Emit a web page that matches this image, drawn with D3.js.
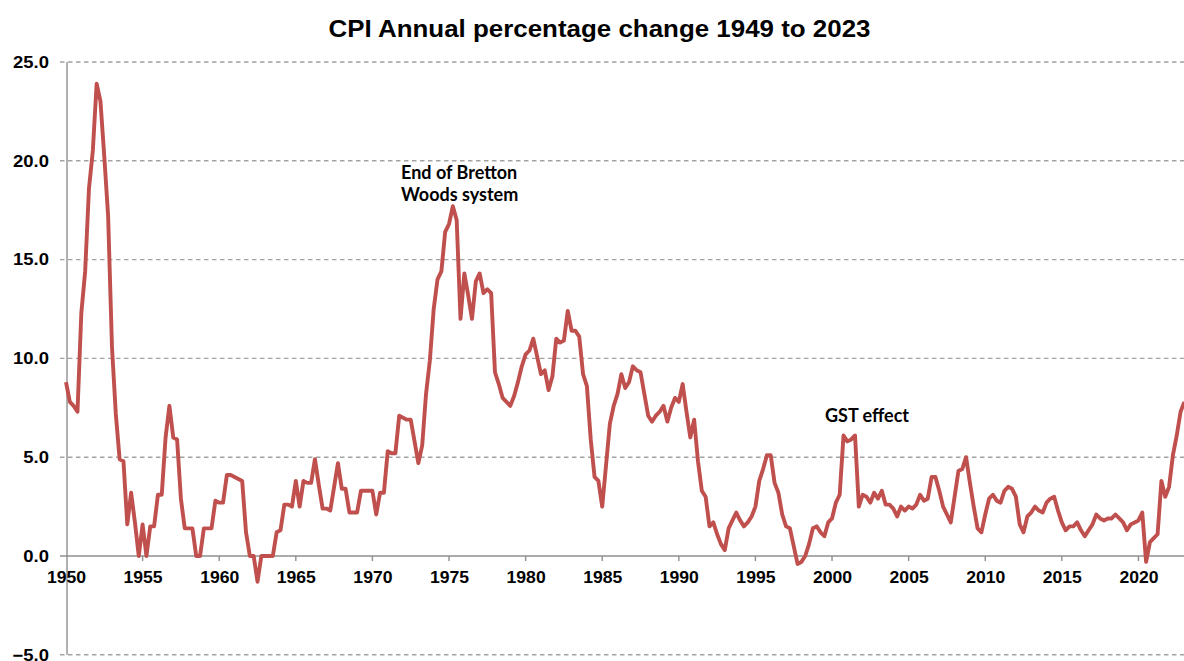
<!DOCTYPE html>
<html>
<head>
<meta charset="utf-8">
<script src="https://cdn.jsdelivr.net/npm/d3@7"></script>
<style>
  html, body { margin: 0; padding: 0; background: #ffffff; }
  svg { display: block; }
</style>
</head>
<body>
<svg id="chart" width="1184" height="661"></svg>
<script>
// ---- Data: year-ended CPI % change, quarterly, starting Dec quarter 1949 ----
const firstYear = 1949;
const firstQuarter = 4;   // Dec quarter
const cpiChange = [
  8.8,
  7.8, 7.6, 7.3, 12.3,     // 1950
  14.4, 18.6, 20.5, 23.9,  // 1951
  23.0, 20.2, 17.2, 10.6,  // 1952
  7.2, 4.9, 4.8, 1.6,      // 1953
  3.2, 1.7, 0.0, 1.6,      // 1954
  0.0, 1.5, 1.5, 3.1,      // 1955
  3.1, 6.0, 7.6, 6.0,      // 1956
  5.9, 2.9, 1.4, 1.4,      // 1957
  1.4, 0.0, 0.0, 1.4,      // 1958
  1.4, 1.4, 2.8, 2.7,      // 1959
  2.7, 4.1, 4.1, 4.0,      // 1960
  3.9, 3.8, 1.2, 0.0,      // 1961
  0.0, -1.3, 0.0, 0.0,     // 1962
  0.0, 0.0, 1.2, 1.3,      // 1963
  2.6, 2.6, 2.5, 3.8,      // 1964
  2.5, 3.8, 3.7, 3.7,      // 1965
  4.9, 3.6, 2.4, 2.4,      // 1966
  2.3, 3.5, 4.7, 3.4,      // 1967
  3.4, 2.2, 2.2, 2.2,      // 1968
  3.3, 3.3, 3.3, 3.3,      // 1969
  2.1, 3.2, 3.2, 5.3,      // 1970
  5.2, 5.2, 7.1, 7.0,      // 1971
  6.9, 6.9, 5.8, 4.7,      // 1972
  5.6, 8.2, 9.9, 12.5,     // 1973
  14.0, 14.4, 16.4, 16.8,  // 1974
  17.7, 17.0, 12.0, 14.3,  // 1975
  13.2, 12.0, 13.9, 14.3,  // 1976
  13.3, 13.5, 13.3, 9.3,   // 1977
  8.7, 8.0, 7.8, 7.6,      // 1978
  8.1, 8.8, 9.6, 10.2,     // 1979
  10.4, 11.0, 10.1, 9.2,   // 1980
  9.4, 8.4, 9.1, 11.0,     // 1981
  10.8, 10.9, 12.4, 11.4,  // 1982
  11.4, 11.1, 9.2, 8.6,    // 1983
  5.9, 4.0, 3.8, 2.5,      // 1984
  4.6, 6.7, 7.6, 8.2,      // 1985
  9.2, 8.5, 8.8, 9.6,      // 1986
  9.4, 9.3, 8.2, 7.1,      // 1987
  6.8, 7.1, 7.3, 7.6,      // 1988
  6.8, 7.5, 8.0, 7.8,      // 1989
  8.7, 7.3, 6.0, 6.9,      // 1990
  4.8, 3.3, 3.0, 1.5,      // 1991
  1.7, 1.1, 0.6, 0.3,      // 1992
  1.4, 1.8, 2.2, 1.8,      // 1993
  1.5, 1.7, 2.0, 2.5,      // 1994
  3.8, 4.4, 5.1, 5.1,      // 1995
  3.7, 3.2, 2.1, 1.5,      // 1996
  1.4, 0.5, -0.4, -0.3,    // 1997
  0.0, 0.6, 1.4, 1.5,      // 1998
  1.2, 1.0, 1.7, 1.9,      // 1999
  2.7, 3.1, 6.1, 5.8,      // 2000
  5.9, 6.1, 2.5, 3.1,      // 2001
  3.0, 2.7, 3.2, 2.9,      // 2002
  3.3, 2.6, 2.6, 2.4,      // 2003
  2.0, 2.5, 2.3, 2.5,      // 2004
  2.4, 2.6, 3.1, 2.8,      // 2005
  2.9, 4.0, 4.0, 3.3,      // 2006
  2.5, 2.1, 1.7, 3.0,      // 2007
  4.3, 4.4, 5.0, 3.7,      // 2008
  2.5, 1.4, 1.2, 2.1,      // 2009
  2.9, 3.1, 2.8, 2.7,      // 2010
  3.3, 3.5, 3.4, 3.0,      // 2011
  1.6, 1.2, 2.0, 2.2,      // 2012
  2.5, 2.3, 2.2, 2.7,      // 2013
  2.9, 3.0, 2.3, 1.7,      // 2014
  1.3, 1.5, 1.5, 1.7,      // 2015
  1.3, 1.0, 1.3, 1.6,      // 2016
  2.1, 1.9, 1.8, 1.9,      // 2017
  1.9, 2.1, 1.9, 1.7,      // 2018
  1.3, 1.6, 1.7, 1.8,      // 2019
  2.2, -0.3, 0.7, 0.9,     // 2020
  1.1, 3.8, 3.0, 3.5,      // 2021
  5.1, 6.1, 7.3, 7.8       // 2022
];
const xTickYears = [1950, 1955, 1960, 1965, 1970, 1975, 1980, 1985, 1990, 1995,
                    2000, 2005, 2010, 2015, 2020];
const yTickValues = [-5, 0, 5, 10, 15, 20, 25];
const titleText = "CPI Annual percentage change 1949 to 2023";
const annotations = [
  { lines: ["End of Bretton", "Woods system"], year: 1971.87, value: 19.08 },
  { lines: ["GST effect"], year: 1999.54, value: 6.8 }
];

// ---- Build points (quarter-end time) ----
const points = cpiChange.map((v, i) => {
  const qIndex = (firstQuarter - 1) + i;            // quarters since start of firstYear
  const t = firstYear + (qIndex + 1) * 0.25;        // quarter-end as decimal year
  return { t, v };
});

// ---- Layout ----
const svg = d3.select("#chart");
const x = d3.scaleLinear().domain([1950, 2023]).range([66, 1184.4]);
const y = d3.scaleLinear().domain([-5, 25]).range([654.8, 62]);
const axisX = 67;
const font = "'Liberation Sans', Arial, Helvetica, sans-serif";
const gridColor = "#a3a3a3";
const axisColor = "#8f8f8f";

// gridlines
svg.append("g").selectAll("line")
  .data(yTickValues.filter(d => d !== 0))
  .join("line")
  .attr("x1", 60).attr("x2", 1184)
  .attr("y1", d => y(d)).attr("y2", d => y(d))
  .attr("stroke", gridColor)
  .attr("stroke-width", 1.4)
  .attr("stroke-dasharray", "4.5,3.5");

// zero axis line (solid)
svg.append("line")
  .attr("x1", 60).attr("x2", 1184)
  .attr("y1", y(0)).attr("y2", y(0))
  .attr("stroke", axisColor).attr("stroke-width", 1.4);

// vertical axis line
svg.append("line")
  .attr("x1", axisX).attr("x2", axisX)
  .attr("y1", y(25)).attr("y2", y(-5))
  .attr("stroke", axisColor).attr("stroke-width", 1.4);

// x ticks on zero line
svg.append("g").selectAll("line")
  .data(xTickYears.filter(d => d !== 1950))
  .join("line")
  .attr("x1", d => x(d)).attr("x2", d => x(d))
  .attr("y1", y(0)).attr("y2", y(0) + 5)
  .attr("stroke", axisColor).attr("stroke-width", 1.4);

// y labels
svg.append("g").selectAll("text")
  .data(yTickValues)
  .join("text")
  .attr("transform", d => `translate(49,${y(d) + 5.8}) scale(1.12,1)`)
  .attr("text-anchor", "end")
  .attr("font-family", font)
  .attr("font-weight", "bold")
  .attr("font-size", 16.5)
  .attr("fill", "#000")
  .text(v => d3.format(".1f")(v));

// x labels
svg.append("g").selectAll("text")
  .data(xTickYears)
  .join("text")
  .attr("transform", d => `translate(${x(d) + 0.5},${y(0) + 26.5}) scale(1.1,1)`)
  .attr("text-anchor", "middle")
  .attr("font-family", font)
  .attr("font-weight", "bold")
  .attr("font-size", 16)
  .attr("fill", "#000")
  .text(d => d);

// line
const line = d3.line().x(d => x(d.t)).y(d => y(d.v));
svg.append("path")
  .datum(points)
  .attr("d", line)
  .attr("fill", "none")
  .attr("stroke", "#C0504D")
  .attr("stroke-width", 3.9)
  .attr("stroke-linejoin", "round")
  .attr("stroke-linecap", "butt");

// title
svg.append("text")
  .attr("transform", "translate(599.5,37) scale(1.08,1)")
  .attr("text-anchor", "middle")
  .attr("font-family", font)
  .attr("font-weight", "bold")
  .attr("font-size", 24)
  .attr("fill", "#000")
  .text(titleText);

// annotations
annotations.forEach(a => {
  const tx = svg.append("text")
    .attr("x", x(a.year))
    .attr("y", y(a.value))
    .attr("font-family", "Lato, 'Open Sans', sans-serif")
    .attr("font-weight", "bold")
    .attr("font-size", 18)
    .attr("fill", "#000");
  a.lines.forEach((l, i) => {
    tx.append("tspan").attr("x", x(a.year)).attr("dy", i === 0 ? 0 : 22.5).text(l);
  });
});
</script>
</body>
</html>
